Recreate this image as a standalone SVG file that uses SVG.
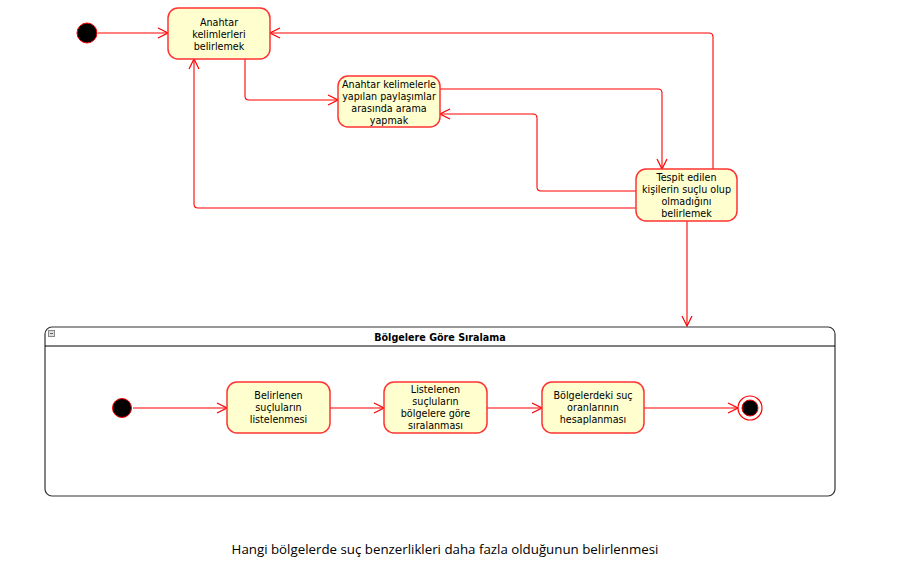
<svg xmlns="http://www.w3.org/2000/svg" width="900" height="586" viewBox="0 0 900 586">
<defs>
<marker id="arr" markerUnits="userSpaceOnUse" markerWidth="12" markerHeight="12" refX="11" refY="6" orient="auto">
<path d="M1,1 L11,6 L1,11" fill="none" stroke="#ff0000" stroke-width="1.2"/>
</marker>
</defs>
<style>
.n{fill:#fefece;stroke:#ff3333;stroke-width:1.5}
.t{font-family:"DejaVu Sans",Verdana,sans-serif;font-size:9.6px;fill:#000;text-anchor:middle}
.c{fill:none;stroke:#ff0000;stroke-width:1.1;marker-end:url(#arr)}
.s{fill:#000;stroke:#ff0000;stroke-width:1}
</style>
<rect width="900" height="586" fill="#fff"/>
<g id="connectors">
<path class="c" d="M98,33 H168"/>
<path class="c" d="M245,59 V96 Q245,100 249,100 H338"/>
<path class="c" d="M440,89 H658 Q662,89 662,93 V169"/>
<path class="c" d="M636,191 H541 Q537,191 537,187 V118 Q537,114 533,114 H440"/>
<path class="c" d="M636,208 H198 Q194,208 194,204 V59"/>
<path class="c" d="M713,169 V37 Q713,33 709,33 H270"/>
<path class="c" d="M687,221 V326"/>
<path class="c" d="M133,408 H227"/>
<path class="c" d="M330,408 H384"/>
<path class="c" d="M487,408 H542"/>
<path class="c" d="M644,408 H738"/>
</g>
<g id="start1"><circle class="s" cx="87" cy="33" r="10"/></g>
<g id="node1">
<rect class="n" x="168" y="8" width="102" height="51" rx="10"/>
<text class="t" x="219" y="26">Anahtar</text>
<text class="t" x="219" y="38">kelimlerleri</text>
<text class="t" x="219" y="50">belirlemek</text>
</g>
<g id="node2">
<rect class="n" x="338" y="76" width="102" height="51" rx="10"/>
<text class="t" x="389" y="88">Anahtar kelimelerle</text>
<text class="t" x="389" y="100">yapılan paylaşımlar</text>
<text class="t" x="389" y="112">arasında arama</text>
<text class="t" x="389" y="124">yapmak</text>
</g>
<g id="node4">
<rect class="n" x="636" y="169" width="101" height="52" rx="10"/>
<text class="t" x="686.5" y="181">Tespit edilen</text>
<text class="t" x="686.5" y="193">kişilerin suçlu olup</text>
<text class="t" x="686.5" y="205">olmadığını</text>
<text class="t" x="686.5" y="217">belirlemek</text>
</g>
<g id="container">
<rect x="45" y="327" width="790" height="169" rx="7" fill="none" stroke="#333" stroke-width="1.2"/>
<line x1="45" y1="346" x2="835" y2="346" stroke="#000" stroke-width="1.2"/>
<rect x="48.5" y="330.5" width="6" height="6" fill="#ddd" stroke="#888" stroke-width="1"/>
<line x1="50" y1="333.5" x2="53" y2="333.5" stroke="#666" stroke-width="1"/>
<text x="440" y="340.5" font-family="DejaVu Sans,Verdana,sans-serif" font-size="9.6px" font-weight="bold" text-anchor="middle">Bölgelere Göre Sıralama</text>
</g>
<g id="start2"><circle class="s" cx="122" cy="408" r="9.5"/></g>
<g id="nodeA">
<rect class="n" x="227" y="382" width="103" height="51" rx="10"/>
<text class="t" x="278.5" y="399">Belirlenen</text>
<text class="t" x="278.5" y="411">suçluların</text>
<text class="t" x="278.5" y="423">listelenmesi</text>
</g>
<g id="nodeB">
<rect class="n" x="384" y="382" width="103" height="51" rx="10"/>
<text class="t" x="435.5" y="393">Listelenen</text>
<text class="t" x="435.5" y="405">suçluların</text>
<text class="t" x="435.5" y="417">bölgelere göre</text>
<text class="t" x="435.5" y="429">sıralanması</text>
</g>
<g id="nodeC">
<rect class="n" x="542" y="382" width="102" height="51" rx="10"/>
<text class="t" x="593" y="399">Bölgelerdeki suç</text>
<text class="t" x="593" y="411">oranlarının</text>
<text class="t" x="593" y="423">hesaplanması</text>
</g>
<g id="end">
<circle cx="750" cy="408" r="12" fill="#fff" stroke="#ff0000" stroke-width="1.2"/>
<circle cx="750" cy="408" r="8" fill="#000" stroke="#ff0000" stroke-width="1"/>
</g>
<text x="445" y="554" font-family="'Open Sans','Noto Sans',sans-serif" font-size="13.3px" text-anchor="middle" fill="#000">Hangi bölgelerde suç benzerlikleri daha fazla olduğunun belirlenmesi</text>
</svg>
